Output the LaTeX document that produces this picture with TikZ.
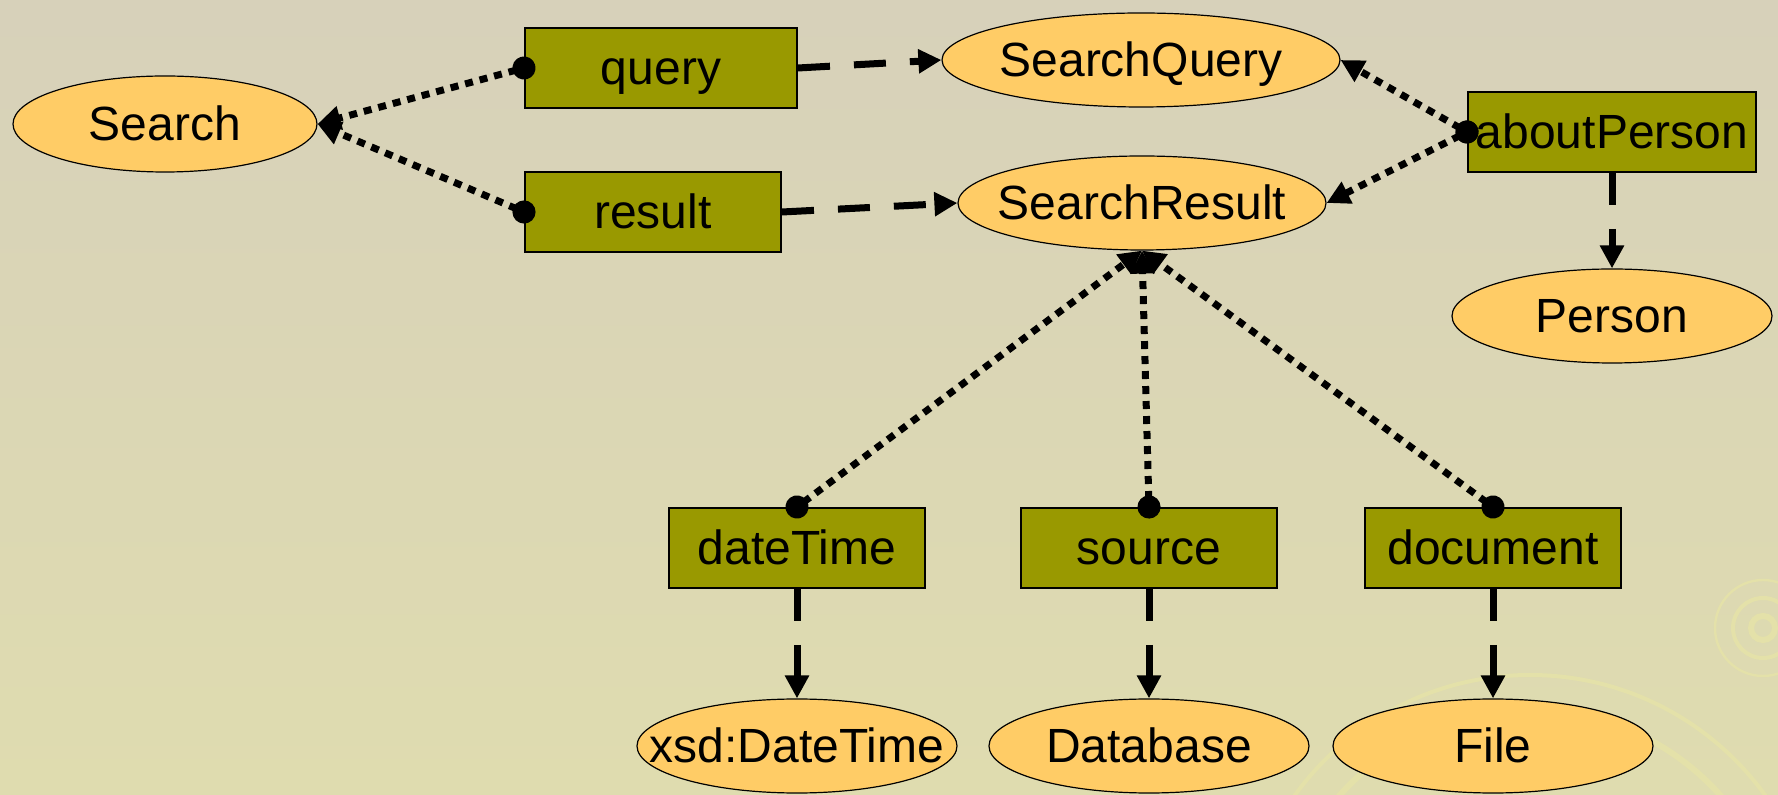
\documentclass[tikz,border=0pt]{standalone}
\usepackage{fontspec}
\setmainfont{Liberation Sans}
\usetikzlibrary{arrows.meta, shapes.geometric}
\definecolor{bgtop}{HTML}{D7D1BA}
\definecolor{bgbot}{HTML}{DFDCAF}
\definecolor{propfill}{HTML}{999900}
\definecolor{clsfill}{HTML}{FFCC66}
\definecolor{ripple}{HTML}{E4E1A9}
\tikzstyle{prop} = [draw, rectangle, line width=1pt, fill=propfill, inner sep=0pt,
   minimum width=128pt, minimum height=40pt, font=\fontsize{24}{28}\selectfont,
   text height=22pt, text depth=5pt]
\tikzstyle{cls} = [draw, ellipse, line width=0.6pt, fill=clsfill, inner sep=0pt,
   minimum width=160pt, minimum height=47pt, font=\fontsize{24}{28}\selectfont,
   text height=22pt, text depth=5pt,
   execute at begin node=\hbox to 0pt\bgroup\hss,
   execute at end node=\hss\egroup]
\tikzstyle{domArrow} = [line width=3.5pt, dash pattern=on 4pt off 3.5pt,
   {Circle[length=11.5pt]}-{Triangle[length=11.5pt,width=11.5pt]}, shorten <=-5.75pt]
\tikzstyle{rngArrow} = [line width=3.5pt, dash pattern=on 16pt off 12pt,
   -{Triangle[length=11.5pt,width=11.5pt]}]

\begin{document}
\begin{tikzpicture}[x=0.5pt, y=-0.5pt]
  % background
  \shade[top color=bgtop, bottom color=bgbot] (0,0) rectangle (1778,795);
  \begin{scope}
    \clip (0,0) rectangle (1778,795);
    \draw[ripple, line width=3pt] (1763,628) circle (12);
    \draw[ripple, line width=2pt] (1763,628) circle (30);
    \draw[ripple, line width=1.2pt] (1763,628) circle (48);
    \draw[ripple, line width=3pt] (1530,965) circle (255);
    \draw[ripple, line width=2pt] (1530,965) circle (290);
  \end{scope}

  % classes and properties
  \node[cls, minimum width=152pt, minimum height=48pt] (search) at (165,124) {Search};
  \node[prop, minimum width=136pt] (query) at (661,68) {query};
  \node[prop] (result) at (653,212) {result};
  \node[cls, minimum width=199pt] (sq) at (1141,60) {SearchQuery};
  \node[cls, minimum width=184pt] (sr) at (1142,203) {SearchResult};
  \node[prop, minimum width=144pt] (about) at (1612,132) {aboutPerson};
  \node[cls, below of=about, node distance=92pt] (person) {Person};

  \node[prop] (dt) at (797,548) {dateTime};
  \node[prop, right of=dt, node distance=176pt] (src) {source};
  \node[prop, right of=src, node distance=172pt] (doc) {document};
  \node[cls, below of=dt, node distance=99pt] (xdt) {xsd:DateTime};
  \node[cls, below of=src, node distance=99pt] (db) {Database};
  \node[cls, below of=doc, node distance=99pt] (file) {File};

  % domains: dotted, dot at the property
  \draw[domArrow] (query.west) -- (search.east);
  \draw[domArrow] (result.west) -- (search.east);
  \draw[domArrow] (about.west) -- (sq.east);
  \draw[domArrow] (about.west) -- (sr.east);
  \draw[domArrow] (dt.north) -- (sr.south);
  \draw[domArrow] (src.north) -- (sr.south);
  \draw[domArrow] (doc.north) -- (sr.south);

  % ranges: dashed
  \draw[rngArrow] (query.east) -- (sq.west);
  \draw[rngArrow] (result.east) -- (sr.west);
  \draw[rngArrow] (about.south) -- (person.north);
  \draw[rngArrow] (dt.south) -- (xdt.north);
  \draw[rngArrow] (src.south) -- (db.north);
  \draw[rngArrow] (doc.south) -- (file.north);
\end{tikzpicture}
\end{document}
